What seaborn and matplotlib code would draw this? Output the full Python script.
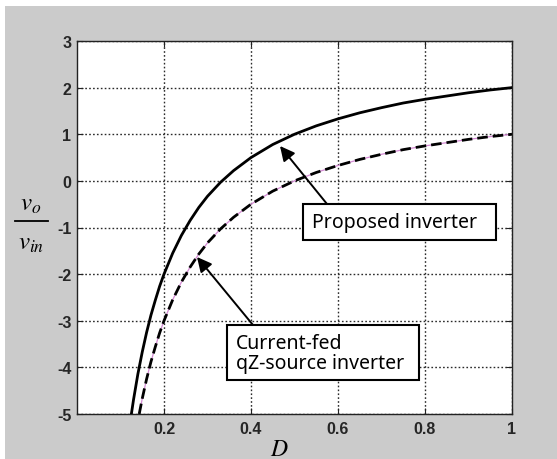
import matplotlib
matplotlib.use("Agg")
import matplotlib.pyplot as plt
from matplotlib.patches import Rectangle
import numpy as np
import pandas as pd
import seaborn as sns

# Duty ratio D and normalised output voltage vo/vin for both topologies
d_proposed = [0.125, 0.13, 0.14, 0.15, 0.16, 0.17, 0.18, 0.19, 0.20, 0.22, 0.24,
              0.26, 0.28, 0.30, 0.33, 0.36, 0.40, 0.45, 0.50, 0.55, 0.60, 0.65,
              0.70, 0.75, 0.80, 0.85, 0.90, 0.95, 1.00]
gain_proposed = [-5.00, -4.69, -4.14, -3.67, -3.25, -2.88, -2.56, -2.26, -2.00,
                 -1.55, -1.17, -0.85, -0.57, -0.33, -0.03, 0.22, 0.50, 0.78, 1.00,
                 1.18, 1.33, 1.46, 1.57, 1.67, 1.75, 1.82, 1.89, 1.95, 2.00]

d_qzsi = [0.143, 0.15, 0.16, 0.17, 0.18, 0.19, 0.20, 0.22, 0.24, 0.26, 0.28,
          0.30, 0.33, 0.36, 0.40, 0.45, 0.50, 0.55, 0.60, 0.65, 0.70, 0.75,
          0.80, 0.85, 0.90, 0.95, 1.00]
gain_qzsi = [-5.00, -4.67, -4.25, -3.88, -3.56, -3.26, -3.00, -2.55, -2.17, -1.85,
             -1.57, -1.33, -1.03, -0.78, -0.50, -0.22, 0.00, 0.18, 0.33, 0.46,
             0.57, 0.67, 0.75, 0.82, 0.89, 0.95, 1.00]

x_ticks = [0.2, 0.4, 0.6, 0.8, 1.0]
x_tick_labels = ["0.2", "0.4", "0.6", "0.8", "1"]
y_ticks = [-5, -4, -3, -2, -1, 0, 1, 2, 3]

label_proposed = "Proposed inverter"
label_qzsi = "Current-fed\nqZ-source inverter"

df_p = pd.DataFrame({"D": d_proposed, "gain": gain_proposed})
df_q = pd.DataFrame({"D": d_qzsi, "gain": gain_qzsi})

plt.rcParams["mathtext.fontset"] = "stix"

W, H = 557, 460
fig = plt.figure(figsize=(W / 100, H / 100), dpi=100)
fig.patch.set_facecolor("#cbcbcb")
# thin white margin along top and left edges
fig.patches.append(Rectangle((0, 1 - 7 / H), 1, 7 / H, transform=fig.transFigure,
                             facecolor="white", edgecolor="none", zorder=0))
fig.patches.append(Rectangle((0, 0), 5 / W, 1, transform=fig.transFigure,
                             facecolor="white", edgecolor="none", zorder=0))

ax = fig.add_axes([77 / W, (H - 415) / H, (512 - 77) / W, (415 - 42) / H])
ax.set_facecolor("white")

sns.lineplot(data=df_p, x="D", y="gain", ax=ax, color="black", lw=2.0,
             sort=False, estimator=None, zorder=4)
sns.lineplot(data=df_q, x="D", y="gain", ax=ax, color="#d48ad4", lw=0.9,
             sort=False, estimator=None, zorder=3)
sns.lineplot(data=df_q, x="D", y="gain", ax=ax, color="black", lw=2.0,
             sort=False, estimator=None, zorder=4, linestyle=(0, (3.8, 1.8)))

ax.set_xlim(0, 1)
ax.set_ylim(-5, 3)
ax.set_xticks(x_ticks)
ax.set_xticklabels(x_tick_labels)
ax.set_yticks(y_ticks)
ax.set_yticklabels([str(v) for v in y_ticks])
ax.set_xlabel("")
ax.set_ylabel("")

ax.grid(True, color="#2a2a2a", linestyle=(0, (1.2, 1.6)), lw=1.0)
ax.set_axisbelow(True)
for s in ax.spines.values():
    s.set_color("#222222")
    s.set_linewidth(1.0)
ax.tick_params(direction="in", length=4, width=0.8, top=True, right=True,
               colors="#222222", labelsize=11.5, pad=5)
ax.tick_params(axis="y", pad=4)
for lab in ax.get_xticklabels() + ax.get_yticklabels():
    lab.set_fontfamily("Liberation Sans")
    lab.set_fontweight("bold")
    lab.set_color("#262626")

# annotation boxes with arrows
def px2data(px, py):
    return ((px - 77) / 435, 3 - (py - 42) / 46.625)

bx0, by0 = px2data(303, 205)
bx1, by1 = px2data(496, 241)
ax.add_patch(Rectangle((bx0, by1), bx1 - bx0, by0 - by1, facecolor="white",
                       edgecolor="black", lw=1.5, zorder=6))
tx, ty = px2data(312, 223)
ax.text(tx, ty, label_proposed, ha="left", va="center", fontsize=14,
        family="Noto Sans", zorder=7)

cx0, cy0 = px2data(227, 326)
cx1, cy1 = px2data(419, 381)
ax.add_patch(Rectangle((cx0, cy1), cx1 - cx0, cy0 - cy1, facecolor="white",
                       edgecolor="black", lw=1.5, zorder=6))
tx, ty = px2data(236, 354)
ax.text(tx, ty, label_qzsi, ha="left", va="center", fontsize=14,
        family="Noto Sans", linespacing=1.0, zorder=7)

ax.annotate("", xy=px2data(280, 147), xytext=px2data(327, 205),
            arrowprops=dict(arrowstyle="-|>", color="black", lw=1.4,
                            mutation_scale=22, shrinkA=0, shrinkB=0), zorder=8)
ax.annotate("", xy=px2data(197, 258), xytext=px2data(253, 326),
            arrowprops=dict(arrowstyle="-|>", color="black", lw=1.4,
                            mutation_scale=22, shrinkA=0, shrinkB=0), zorder=8)

# axis labels
fig.text(279 / W, 1 - 449 / H, r"$D$", ha="center", va="center", fontsize=17)
fig.text(31 / W, 1 - 204 / H, r"$v_o$", ha="center", va="center", fontsize=18)
fig.text(31 / W, 1 - 243 / H, r"$v_{in}$", ha="center", va="center", fontsize=18)
fig.add_artist(plt.Line2D([15 / W, 48 / W], [1 - 222 / H, 1 - 222 / H],
                          transform=fig.transFigure, color="black", lw=1.3))

fig.savefig("out.png", dpi=100, facecolor=fig.get_facecolor())
